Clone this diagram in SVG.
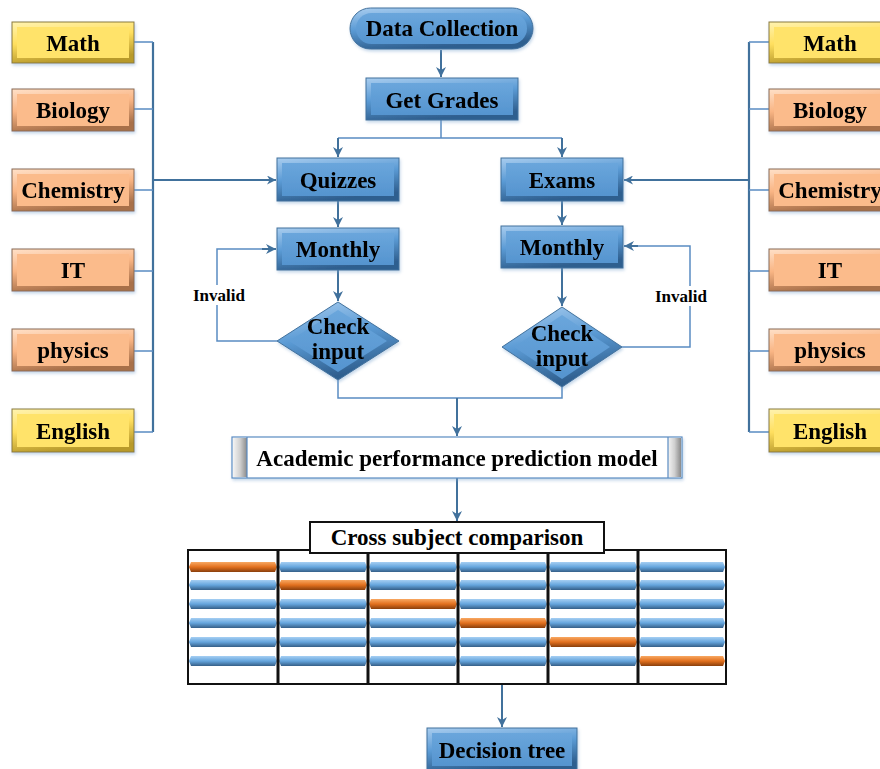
<svg xmlns="http://www.w3.org/2000/svg" width="880" height="769" viewBox="0 0 880 769">
<style>
.t{font-family:"Liberation Serif","Times New Roman",serif;font-weight:bold;fill:#000;text-anchor:middle}
.big{font-size:23px}
.sm{font-size:17px}
.ln{fill:none;stroke:#5a8cc2;stroke-width:1.5}
.ar{fill:none;stroke:#41719c;stroke-width:2}
.bus{fill:none;stroke:#41719c;stroke-width:2.2}
.blueO{fill:url(#gBlueO);stroke:#41719c;stroke-width:1}
.blueI{fill:url(#gBlueI)}
.yelO{fill:url(#gYelO);stroke:#8a7a3a;stroke-width:1}
.yelI{fill:#ffe36a}
.orO{fill:url(#gOrO);stroke:#8a6a50;stroke-width:1}
.orI{fill:#fbbb8b}
.grid{fill:#fff;stroke:#111;stroke-width:2}
.col{stroke:#111;stroke-width:3}
</style>
<defs>
<linearGradient id="gBlueO" x1="0" y1="0" x2="0.3" y2="1">
<stop offset="0" stop-color="#a9cdef"/><stop offset="0.5" stop-color="#5b9bd5"/><stop offset="1" stop-color="#2f5f8f"/>
</linearGradient>
<linearGradient id="gBlueI" x1="0" y1="0" x2="0" y2="1">
<stop offset="0" stop-color="#6aa6dc"/><stop offset="1" stop-color="#5594cf"/>
</linearGradient>
<linearGradient id="gYelO" x1="0" y1="0" x2="0.3" y2="1">
<stop offset="0" stop-color="#fff3b0"/><stop offset="0.5" stop-color="#ffdf5f"/><stop offset="1" stop-color="#b89a2c"/>
</linearGradient>
<linearGradient id="gOrO" x1="0" y1="0" x2="0.3" y2="1">
<stop offset="0" stop-color="#ffe0c8"/><stop offset="0.5" stop-color="#f9b584"/><stop offset="1" stop-color="#a8704a"/>
</linearGradient>
<linearGradient id="gGray" x1="0" y1="0" x2="1" y2="0">
<stop offset="0" stop-color="#f4f4f4"/><stop offset="0.5" stop-color="#d0d0d0"/><stop offset="1" stop-color="#8a8a8a"/>
</linearGradient>
<linearGradient id="gBar" x1="0" y1="0" x2="0" y2="1">
<stop offset="0" stop-color="#a6cff3"/><stop offset="0.5" stop-color="#65a5dd"/><stop offset="1" stop-color="#355f88"/>
</linearGradient>
<linearGradient id="gBarO" x1="0" y1="0" x2="0" y2="1">
<stop offset="0" stop-color="#f8a862"/><stop offset="0.5" stop-color="#e2701e"/><stop offset="1" stop-color="#8a3f0c"/>
</linearGradient>
<filter id="sh" x="-10%" y="-10%" width="130%" height="140%">
<feDropShadow dx="1" dy="2" stdDeviation="1.5" flood-color="#7fa6cf" flood-opacity="0.45"/>
</filter>
<marker id="ah" viewBox="0 0 10 10" refX="10" refY="5" markerWidth="5" markerHeight="5" orient="auto" markerUnits="strokeWidth">
<path d="M0,0 L10,5 L0,10 L3,5 Z" fill="#41719c"/>
</marker>
<marker id="ah2" viewBox="0 0 10 10" refX="10" refY="5" markerWidth="4.5" markerHeight="4.5" orient="auto" markerUnits="strokeWidth">
<path d="M0,0 L10,5 L0,10 L3,5 Z" fill="#41719c"/>
</marker>
<symbol id="barB" viewBox="0 0 88 10" preserveAspectRatio="none"><path d="M2,0 H86 L88,5 L86,10 H2 L0,5 Z" fill="url(#gBar)"/></symbol>
<symbol id="barO" viewBox="0 0 88 10" preserveAspectRatio="none"><path d="M2,0 H86 L88,5 L86,10 H2 L0,5 Z" fill="url(#gBarO)"/></symbol>
</defs>
<rect width="880" height="769" fill="#fff"/>

<g id="connectors">
<path class="bus" d="M153,42 V432"/>
<path class="ln" d="M134,42 H153 M134,109 H153 M134,190 H153 M134,271 H153 M134,351 H153 M134,432 H153"/>
<path class="ar" d="M153,180 H276" stroke-width="3" marker-end="url(#ah2)"/>
<path class="bus" d="M749,42 V432"/>
<path class="ln" d="M749,42 H769 M749,109 H769 M749,190 H769 M749,271 H769 M749,351 H769 M749,432 H769"/>
<path class="ar" d="M749,180 H624" stroke-width="3" marker-end="url(#ah2)"/>
<path class="ar" d="M441,50 V77" marker-end="url(#ah)"/>
<path class="ln" d="M441,120 V138 M338,138 H562"/>
<path class="ar" d="M338,138 V157" marker-end="url(#ah)"/>
<path class="ar" d="M562,138 V157" marker-end="url(#ah)"/>
<path class="ar" d="M338,201 V227" marker-end="url(#ah)"/>
<path class="ar" d="M338,270 V301" marker-end="url(#ah)"/>
<path class="ar" d="M562,201 V225" marker-end="url(#ah)"/>
<path class="ar" d="M562,268 V306" marker-end="url(#ah)"/>
<path class="ln" d="M277,341 H217 V249 H262"/>
<path class="ar" d="M262,249 H276" marker-end="url(#ah)"/>
<path class="ln" d="M622,347 H690 V246 H638"/>
<path class="ar" d="M638,246 H624" marker-end="url(#ah)"/>
<path class="ln" d="M338,380 V398 H562 V387"/>
<path class="ar" d="M457,398 V436" marker-end="url(#ah)"/>
<path class="ar" d="M457,478 V521" marker-end="url(#ah)"/>
<path class="ar" d="M502,684 V727" marker-end="url(#ah)"/>
<rect x="188" y="285" width="62" height="20" fill="#fff"/>
<text class="t sm" x="219" y="301">Invalid</text>
<rect x="650" y="286" width="62" height="20" fill="#fff"/>
<text class="t sm" x="681" y="302">Invalid</text>
</g>

<g id="math-l" filter="url(#sh)"><rect class="yelO" x="12" y="22" width="122" height="41"/><rect class="yelI" x="17" y="27" width="112" height="31"/><text class="t big" x="73" y="50.5">Math</text></g>
<g id="biology-l" filter="url(#sh)"><rect class="orO" x="12" y="89" width="122" height="42"/><rect class="orI" x="17" y="94" width="112" height="32"/><text class="t big" x="73" y="117.5">Biology</text></g>
<g id="chemistry-l" filter="url(#sh)"><rect class="orO" x="12" y="169" width="122" height="42"/><rect class="orI" x="17" y="174" width="112" height="32"/><text class="t big" x="73" y="197.5">Chemistry</text></g>
<g id="it-l" filter="url(#sh)"><rect class="orO" x="12" y="249" width="122" height="42"/><rect class="orI" x="17" y="254" width="112" height="32"/><text class="t big" x="73" y="277.5">IT</text></g>
<g id="physics-l" filter="url(#sh)"><rect class="orO" x="12" y="329" width="122" height="42"/><rect class="orI" x="17" y="334" width="112" height="32"/><text class="t big" x="73" y="357.5">physics</text></g>
<g id="english-l" filter="url(#sh)"><rect class="yelO" x="12" y="409" width="122" height="43"/><rect class="yelI" x="17" y="414" width="112" height="33"/><text class="t big" x="73" y="438.5">English</text></g>

<g id="math-r" filter="url(#sh)"><rect class="yelO" x="769" y="22" width="122" height="41"/><rect class="yelI" x="774" y="27" width="112" height="31"/><text class="t big" x="830" y="50.5">Math</text></g>
<g id="biology-r" filter="url(#sh)"><rect class="orO" x="769" y="89" width="122" height="42"/><rect class="orI" x="774" y="94" width="112" height="32"/><text class="t big" x="830" y="117.5">Biology</text></g>
<g id="chemistry-r" filter="url(#sh)"><rect class="orO" x="769" y="169" width="122" height="42"/><rect class="orI" x="774" y="174" width="112" height="32"/><text class="t big" x="830" y="197.5">Chemistry</text></g>
<g id="it-r" filter="url(#sh)"><rect class="orO" x="769" y="249" width="122" height="42"/><rect class="orI" x="774" y="254" width="112" height="32"/><text class="t big" x="830" y="277.5">IT</text></g>
<g id="physics-r" filter="url(#sh)"><rect class="orO" x="769" y="329" width="122" height="42"/><rect class="orI" x="774" y="334" width="112" height="32"/><text class="t big" x="830" y="357.5">physics</text></g>
<g id="english-r" filter="url(#sh)"><rect class="yelO" x="769" y="409" width="122" height="43"/><rect class="yelI" x="774" y="414" width="112" height="33"/><text class="t big" x="830" y="438.5">English</text></g>

<g id="data-collection" filter="url(#sh)"><rect class="blueO" x="350" y="8" width="183" height="41" rx="20.5"/><rect class="blueI" x="356" y="13" width="171" height="31" rx="15.5"/><text class="t big" x="442" y="35.5">Data Collection</text></g>
<g id="get-grades" filter="url(#sh)"><rect class="blueO" x="366" y="78" width="152" height="42"/><rect class="blueI" x="371" y="83" width="142" height="32"/><text class="t big" x="442" y="107.5">Get Grades</text></g>
<g id="quizzes" filter="url(#sh)"><rect class="blueO" x="277" y="158" width="122" height="43"/><rect class="blueI" x="282" y="163" width="112" height="33"/><text class="t big" x="338" y="187.5">Quizzes</text></g>
<g id="exams" filter="url(#sh)"><rect class="blueO" x="501" y="158" width="122" height="43"/><rect class="blueI" x="506" y="163" width="112" height="33"/><text class="t big" x="562" y="187.5">Exams</text></g>
<g id="monthly-l" filter="url(#sh)"><rect class="blueO" x="277" y="228" width="122" height="42"/><rect class="blueI" x="282" y="233" width="112" height="32"/><text class="t big" x="338" y="256.5">Monthly</text></g>
<g id="monthly-r" filter="url(#sh)"><rect class="blueO" x="501" y="226" width="122" height="42"/><rect class="blueI" x="506" y="231" width="112" height="32"/><text class="t big" x="562" y="254.5">Monthly</text></g>
<g id="check-l" filter="url(#sh)"><polygon class="blueO" points="338,302 399,341 338,380 277,341"/><polygon class="blueI" points="338,310 387,341 338,372 289,341"/><text class="t big" x="338" y="334">Check</text><text class="t big" x="338" y="359">input</text></g>
<g id="check-r" filter="url(#sh)"><polygon class="blueO" points="562,307 622,347 562,387 502,347"/><polygon class="blueI" points="562,315 610,347 562,379 514,347"/><text class="t big" x="562" y="341">Check</text><text class="t big" x="562" y="366">input</text></g>

<g id="model" filter="url(#sh)">
<rect x="232" y="437" width="450" height="41" fill="#fff" stroke="#5b8cc2" stroke-width="1.2"/>
<rect x="233" y="438" width="14" height="39" fill="url(#gGray)"/>
<rect x="668" y="438" width="13" height="39" fill="url(#gGray)"/>
<path d="M247,437 V478 M668,437 V478" stroke="#5b8cc2" stroke-width="1.2"/>
<text class="t big" x="457" y="465.5">Academic performance prediction model</text>
</g>

<g id="comparison">
<rect class="grid" x="188" y="550" width="538" height="134"/>
<g>
<use href="#barO" x="189" y="562" width="88" height="10"/><use href="#barB" x="279" y="562" width="88" height="10"/><use href="#barB" x="369" y="562" width="88" height="10"/><use href="#barB" x="459" y="562" width="88" height="10"/><use href="#barB" x="549" y="562" width="88" height="10"/><use href="#barB" x="639" y="562" width="86" height="10"/>
<use href="#barB" x="189" y="580" width="88" height="10"/><use href="#barO" x="279" y="580" width="88" height="10"/><use href="#barB" x="369" y="580" width="88" height="10"/><use href="#barB" x="459" y="580" width="88" height="10"/><use href="#barB" x="549" y="580" width="88" height="10"/><use href="#barB" x="639" y="580" width="86" height="10"/>
<use href="#barB" x="189" y="599" width="88" height="10"/><use href="#barB" x="279" y="599" width="88" height="10"/><use href="#barO" x="369" y="599" width="88" height="10"/><use href="#barB" x="459" y="599" width="88" height="10"/><use href="#barB" x="549" y="599" width="88" height="10"/><use href="#barB" x="639" y="599" width="86" height="10"/>
<use href="#barB" x="189" y="618" width="88" height="10"/><use href="#barB" x="279" y="618" width="88" height="10"/><use href="#barB" x="369" y="618" width="88" height="10"/><use href="#barO" x="459" y="618" width="88" height="10"/><use href="#barB" x="549" y="618" width="88" height="10"/><use href="#barB" x="639" y="618" width="86" height="10"/>
<use href="#barB" x="189" y="637" width="88" height="10"/><use href="#barB" x="279" y="637" width="88" height="10"/><use href="#barB" x="369" y="637" width="88" height="10"/><use href="#barB" x="459" y="637" width="88" height="10"/><use href="#barO" x="549" y="637" width="88" height="10"/><use href="#barB" x="639" y="637" width="86" height="10"/>
<use href="#barB" x="189" y="656" width="88" height="10"/><use href="#barB" x="279" y="656" width="88" height="10"/><use href="#barB" x="369" y="656" width="88" height="10"/><use href="#barB" x="459" y="656" width="88" height="10"/><use href="#barB" x="549" y="656" width="88" height="10"/><use href="#barO" x="639" y="656" width="86" height="10"/>
</g>
<path class="col" d="M278,550 V684 M368,550 V684 M458,550 V684 M548,550 V684 M638,550 V684"/>
<rect x="310" y="522" width="294" height="31" fill="#fff" stroke="#111" stroke-width="2"/>
<text class="t big" x="457" y="545">Cross subject comparison</text>
</g>

<g id="decision-tree" filter="url(#sh)"><rect class="blueO" x="427" y="728" width="150" height="43"/><rect class="blueI" x="432" y="733" width="140" height="33"/><text class="t big" x="502" y="757.5">Decision tree</text></g>
</svg>
